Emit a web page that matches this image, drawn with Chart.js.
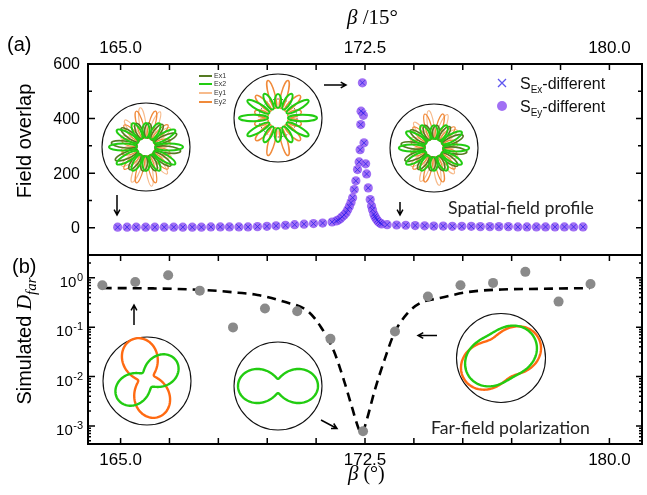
<!DOCTYPE html>
<html>
<head>
<meta charset="utf-8">
<script src="https://cdn.jsdelivr.net/npm/chart.js@4.4.0/dist/chart.umd.min.js"></script>
<style>
  html, body { margin: 0; padding: 0; background: #fff; }
  #wrap { position: relative; width: 647px; height: 495px; }
  #wrap canvas { position: absolute; left: 0; top: 0; }
</style>
</head>
<body>
<div id="wrap">
  <canvas id="topPanel" width="647" height="495"></canvas>
  <canvas id="bottomPanel" width="647" height="495"></canvas>
</div>
<script>
// ---- data ----
const xTickValues = [165, 166.5, 168, 169.5, 171, 172.5, 174, 175.5, 177, 178.5, 180];
const xTickLabels = ['165.0', '', '', '', '', '172.5', '', '', '', '', '180.0'];
const overlapTicks = [0, 200, 400, 600];
const overlapMinorTicks = [100, 300, 500];
const dfarTicks = [1, 0.1, 0.01, 0.001];
const dfarTickExp = ['0', '-1', '-2', '-3'];

const betaField = [
  164.91, 165.20, 165.48, 165.77, 166.05, 166.34, 166.63, 166.91, 167.20, 167.48, 167.77, 168.06,
  168.34, 168.63, 168.91, 169.20, 169.49, 169.77, 170.06, 170.34, 170.63, 170.92, 171.20, 171.49,
  171.62, 171.68, 171.74, 171.80, 171.86, 171.92, 171.97, 172.02, 172.07, 172.12, 172.17, 172.22,
  172.27, 172.32, 172.35, 172.37, 172.38, 172.42,
  172.45, 172.47, 172.52, 172.55, 172.60, 172.66, 172.70, 172.73, 172.77, 172.80, 172.83, 172.87,
  172.91, 172.96, 173.01,
  173.18, 173.47, 173.75, 174.04, 174.33, 174.61, 174.90, 175.18, 175.47, 175.76, 176.04, 176.33,
  176.61, 176.90, 177.19, 177.47, 177.76, 178.04, 178.33, 178.62, 178.90, 179.19
];
const overlapEx = [
  2, 2, 2, 2, 2, 2, 2, 2, 2, 2, 3, 3,
  3, 3, 3, 4, 5, 7, 9, 11, 13, 15, 17, 21,
  25, 28, 33, 40, 47, 55, 66, 78, 92, 110, 140, 172,
  213, 241, 286, 378, 427, 531,
  420, 311, 234, 197, 146, 103, 80, 66, 50, 42, 36, 28,
  22, 17, 14,
  11, 10, 9, 8, 7, 6, 6, 5, 5, 5, 4, 4,
  4, 4, 3, 3, 3, 3, 3, 3, 3, 3
];
const overlapEy = [
  2, 2, 2, 2, 2, 2, 2, 2, 2, 2, 3, 3,
  3, 3, 3, 4, 5, 7, 9, 11, 13, 15, 17, 21,
  25, 28, 33, 40, 47, 55, 66, 78, 92, 110, 140, 172,
  213, 241, 286, 378, 427, 531,
  412, 311, 234, 197, 146, 103, 80, 66, 50, 42, 36, 28,
  22, 17, 14,
  11, 10, 9, 8, 7, 6, 6, 5, 5, 5, 4, 4,
  4, 4, 3, 3, 3, 3, 3, 3, 3, 3
];

const betaFar = [164.44, 165.45, 166.46, 167.43, 168.45, 169.43, 170.42, 171.44,
  172.44, 173.42, 174.43, 175.43, 176.43, 177.42, 178.44, 179.42];
const dfarSim = [0.71, 0.82, 1.13, 0.55, 0.099, 0.24, 0.21, 0.058,
  0.00078, 0.082, 0.42, 0.71, 0.79, 1.32, 0.33, 0.75];

const betaFit = [164.45, 166.0, 167.5, 168.6, 169.2, 170.0, 170.75, 171.15, 171.55, 171.85, 172.1, 172.3,
  172.4, 172.55, 172.8, 173.1, 173.4, 173.8, 174.2, 174.8, 175.7, 176.7, 178.0, 179.4];
const dfarFit = [0.62, 0.61, 0.57, 0.50, 0.45, 0.33, 0.21, 0.10, 0.032, 0.0085, 0.0024, 0.0009,
  0.0007, 0.0013, 0.0053, 0.022, 0.076, 0.19, 0.31, 0.39, 0.52, 0.58, 0.60, 0.62];

// ---- colours / fonts ----
const SANS = '"Liberation Sans", Arial, sans-serif';
const SERIF = '"Liberation Serif", "DejaVu Serif", serif';
const CALIBRI = 'Lato, "Open Sans", sans-serif';
const purple = 'rgba(148, 92, 243, 0.88)';
const crossBlue = 'rgba(40, 30, 235, 0.75)';
const green = '#22cc11';
const olive = '#557a22';
const orange = '#f08a3a';
const lightOrange = '#f7bb8c';
const redOrange = '#ff6a12';

function toPoints(xs, ys) {
  return xs.map((x, i) => ({ x: x, y: ys[i] }));
}

// ---- drawing helpers ----
function drawRuns(ctx, runs, x, y) {
  let cx = x;
  runs.forEach(r => {
    ctx.font = r.font;
    ctx.fillText(r.t, cx, y + (r.dy || 0));
    cx += ctx.measureText(r.t).width;
  });
  return cx;
}

function runsWidth(ctx, runs) {
  let w = 0;
  runs.forEach(r => { ctx.font = r.font; w += ctx.measureText(r.t).width; });
  return w;
}

function fitText(ctx, text, family, width, x, y) {
  ctx.font = '20px ' + family;
  const size = 20 * width / ctx.measureText(text).width;
  ctx.font = size.toFixed(2) + 'px ' + family;
  ctx.fillText(text, x, y);
}

function arrow(ctx, x1, y1, x2, y2) {
  const a = Math.atan2(y2 - y1, x2 - x1);
  const h = 6;
  ctx.save();
  ctx.strokeStyle = '#000';
  ctx.lineWidth = 1.5;
  ctx.beginPath();
  ctx.moveTo(x1, y1);
  ctx.lineTo(x2, y2);
  ctx.moveTo(x2 - h * Math.cos(a - 0.5), y2 - h * Math.sin(a - 0.5));
  ctx.lineTo(x2, y2);
  ctx.lineTo(x2 - h * Math.cos(a + 0.5), y2 - h * Math.sin(a + 0.5));
  ctx.stroke();
  ctx.restore();
}

function circle(ctx, cx, cy, r) {
  ctx.save();
  ctx.strokeStyle = '#111';
  ctx.lineWidth = 1.1;
  ctx.beginPath();
  ctx.arc(cx, cy, r, 0, 2 * Math.PI);
  ctx.stroke();
  ctx.restore();
}

// petal flower used for the near-field insets
function petalRose(ctx, cx, cy, o) {
  ctx.save();
  ctx.strokeStyle = o.color;
  ctx.lineWidth = o.lw;
  for (let i = 0; i < o.n; i++) {
    const a = o.phase + i * 2 * Math.PI / o.n;
    const t = Math.pow(Math.cos(a - o.axis), 2);
    const rOut = o.rMin + (o.rMax - o.rMin) * t;
    const mid = (o.rIn + rOut) / 2;
    ctx.beginPath();
    ctx.ellipse(cx + Math.cos(a) * mid, cy + Math.sin(a) * mid, (rOut - o.rIn) / 2, o.w, a, 0, 2 * Math.PI);
    ctx.stroke();
  }
  ctx.restore();
}

// two-lobed polarization pattern for the far-field insets
function peanut(ctx, cx, cy, R, k, ang, color, lw) {
  ctx.save();
  ctx.beginPath();
  for (let i = 0; i <= 180; i++) {
    const th = i / 180 * 2 * Math.PI;
    const c = Math.cos(th - ang);
    const r = R * (k + (1 - k) * c * c);
    const px = cx + r * Math.cos(th);
    const py = cy + r * Math.sin(th);
    if (i === 0) ctx.moveTo(px, py); else ctx.lineTo(px, py);
  }
  ctx.closePath();
  ctx.strokeStyle = color;
  ctx.lineWidth = lw;
  ctx.stroke();
  ctx.restore();
}

function nearFieldInset(ctx, cx, cy, s) {
  circle(ctx, cx, cy, 44);
  petalRose(ctx, cx, cy, { n: 12, phase: 0.38, axis: Math.PI / 2, rIn: 9, rMax: 40 * s, rMin: 25 * s, w: 3.2, color: lightOrange, lw: 1.1 });
  petalRose(ctx, cx, cy, { n: 12, phase: 0.26, axis: Math.PI / 2, rIn: 9, rMax: 38 * s, rMin: 24 * s, w: 3.2, color: orange, lw: 1.2 });
  petalRose(ctx, cx, cy, { n: 12, phase: 0.12, axis: 0, rIn: 9, rMax: 35 * s, rMin: 24 * s, w: 3.4, color: olive, lw: 1.6 });
  petalRose(ctx, cx, cy, { n: 12, phase: 0, axis: 0, rIn: 9, rMax: 37 * s, rMin: 24 * s, w: 3.6, color: green, lw: 2 });
}

function frameAndTicks(chart, cfg) {
  const ctx = chart.ctx;
  const a = chart.chartArea;
  const xs = chart.scales.x;
  const ys = chart.scales.y;
  ctx.save();
  ctx.strokeStyle = '#000';
  ctx.lineWidth = 1.5;
  ctx.beginPath();
  xTickValues.forEach(v => {
    const px = xs.getPixelForValue(v);
    if (cfg.topTicks) { ctx.moveTo(px, a.top); ctx.lineTo(px, a.top + 6); }
    if (cfg.bottomTicks) { ctx.moveTo(px, a.bottom); ctx.lineTo(px, a.bottom - 6); }
  });
  cfg.yMajor.forEach(v => {
    const py = ys.getPixelForValue(v);
    ctx.moveTo(a.left, py); ctx.lineTo(a.left + 7, py);
    ctx.moveTo(a.right, py); ctx.lineTo(a.right - 6, py);
  });
  cfg.yMinor.forEach(v => {
    const py = ys.getPixelForValue(v);
    ctx.moveTo(a.left, py); ctx.lineTo(a.left + cfg.minorLen, py);
    ctx.moveTo(a.right, py); ctx.lineTo(a.right - cfg.minorLen, py);
  });
  ctx.stroke();
  ctx.lineWidth = 2;
  ctx.strokeRect(a.left, a.top, a.right - a.left, a.bottom - a.top);
  ctx.restore();
}

// ---- top panel decorations ----
const topDecor = {
  id: 'topDecor',
  afterDraw(chart) {
    const ctx = chart.ctx;
    const xs = chart.scales.x;
    const ys = chart.scales.y;
    frameAndTicks(chart, { topTicks: true, bottomTicks: false, yMajor: overlapTicks, yMinor: overlapMinorTicks, minorLen: 4 });

    ctx.save();
    ctx.fillStyle = '#000';
    ctx.textAlign = 'center';
    ctx.textBaseline = 'alphabetic';
    ctx.font = '17px ' + SANS;
    xTickValues.forEach((v, i) => {
      if (xTickLabels[i]) ctx.fillText(xTickLabels[i], xs.getPixelForValue(v), 53);
    });
    ctx.textAlign = 'right';
    ctx.textBaseline = 'middle';
    ctx.font = '16px ' + SANS;
    overlapTicks.forEach(v => ctx.fillText(String(v), 80, ys.getPixelForValue(v) + 1));

    // axis titles
    ctx.textBaseline = 'alphabetic';
    ctx.textAlign = 'left';
    drawRuns(ctx, [{ t: 'β', font: 'italic 21px ' + SERIF }, { t: ' /15°', font: '21px ' + SERIF }], 347, 24);
    ctx.font = '20px ' + SANS;
    ctx.fillText('(a)', 7, 51);
    ctx.save();
    ctx.translate(31, 141);
    ctx.rotate(-Math.PI / 2);
    ctx.textAlign = 'center';
    ctx.font = '20px ' + SANS;
    ctx.fillText('Field overlap', 0, 0);
    ctx.restore();

    // series legend
    ctx.strokeStyle = crossBlue;
    ctx.lineWidth = 1.3;
    ctx.beginPath();
    ctx.moveTo(498, 79); ctx.lineTo(506, 87);
    ctx.moveTo(506, 79); ctx.lineTo(498, 87);
    ctx.stroke();
    ctx.fillStyle = purple;
    ctx.beginPath();
    ctx.arc(502, 106, 5, 0, 2 * Math.PI);
    ctx.fill();
    ctx.fillStyle = '#111';
    drawRuns(ctx, [{ t: 'S', font: '16px ' + SANS }, { t: 'Ex', font: '10px ' + SANS, dy: 4 }, { t: '-different', font: '16px ' + SANS }], 520, 89);
    drawRuns(ctx, [{ t: 'S', font: '16px ' + SANS }, { t: 'Ey', font: '10px ' + SANS, dy: 4 }, { t: '-different', font: '16px ' + SANS }], 520, 112);

    // inset legend
    const leg = [['Ex1', olive], ['Ex2', green], ['Ey1', lightOrange], ['Ey2', orange]];
    const legY = [76, 84, 93, 102];
    ctx.font = '7px ' + SANS;
    ctx.textBaseline = 'middle';
    leg.forEach((l, i) => {
      ctx.strokeStyle = l[1];
      ctx.lineWidth = 2;
      ctx.beginPath();
      ctx.moveTo(199, legY[i]); ctx.lineTo(212, legY[i]);
      ctx.stroke();
      ctx.fillStyle = '#333';
      ctx.fillText(l[0], 214, legY[i]);
    });

    // insets
    nearFieldInset(ctx, 146, 147, 1);
    circle(ctx, 278, 118, 44);
    ctx.save();
    ctx.setLineDash([2, 2]);
    ctx.strokeStyle = '#4a5a3a';
    ctx.lineWidth = 1;
    ctx.beginPath();
    ctx.arc(278, 118, 19, 0, 2 * Math.PI);
    ctx.stroke();
    ctx.restore();
    petalRose(ctx, 278, 118, { n: 12, phase: Math.PI / 12, axis: Math.PI / 2, rIn: 10, rMax: 40, rMin: 23, w: 3.2, color: orange, lw: 1.5 });
    petalRose(ctx, 278, 118, { n: 12, phase: 0, axis: 0, rIn: 10, rMax: 39, rMin: 24, w: 3.2, color: green, lw: 2 });
    nearFieldInset(ctx, 434, 148, 0.95);

    // arrows and note
    arrow(ctx, 117, 195, 117, 215);
    arrow(ctx, 324, 85, 346, 85);
    arrow(ctx, 400, 202, 400, 215);
    ctx.fillStyle = '#222';
    ctx.textBaseline = 'alphabetic';
    ctx.textAlign = 'left';
    fitText(ctx, 'Spatial-field profile', CALIBRI, 146, 448, 214);
    ctx.restore();
  }
};

// ---- bottom panel decorations ----
const bottomDecor = {
  id: 'bottomDecor',
  afterDraw(chart) {
    const ctx = chart.ctx;
    const xs = chart.scales.x;
    const ys = chart.scales.y;
    const minor = [];
    [0.0001, 0.001, 0.01, 0.1, 1].forEach(d => {
      for (let m = 2; m <= 9; m++) {
        const v = d * m;
        if (v > ys.min && v < ys.max) minor.push(v);
      }
    });
    frameAndTicks(chart, { topTicks: true, bottomTicks: true, yMajor: dfarTicks, yMinor: minor, minorLen: 3 });

    ctx.save();
    ctx.fillStyle = '#000';
    ctx.textAlign = 'center';
    ctx.textBaseline = 'alphabetic';
    ctx.font = '17px ' + SANS;
    xTickValues.forEach((v, i) => {
      if (xTickLabels[i]) ctx.fillText(xTickLabels[i], xs.getPixelForValue(v), 465);
    });
    ctx.textAlign = 'left';
    dfarTicks.forEach((v, i) => {
      const py = ys.getPixelForValue(v);
      ctx.font = '11px ' + SANS;
      const ew = ctx.measureText(dfarTickExp[i]).width;
      ctx.fillText(dfarTickExp[i], 83 - ew, py + 3);
      ctx.font = '15px ' + SANS;
      const bw = ctx.measureText('10').width;
      ctx.fillText('10', 83 - ew - bw - 0.5, py + 9);
    });

    drawRuns(ctx, [{ t: 'β', font: 'italic 21px ' + SERIF }, { t: ' (°)', font: '20px ' + SERIF }], 348, 480);
    ctx.font = '20px ' + SANS;
    ctx.fillText('(b)', 12, 273);

    const title = [
      { t: 'Simulated ', font: '20px ' + SANS },
      { t: 'D', font: 'italic 21px ' + SERIF },
      { t: 'far', font: 'italic 15px ' + SERIF, dy: 5 }
    ];
    ctx.save();
    ctx.translate(31, 341);
    ctx.rotate(-Math.PI / 2);
    drawRuns(ctx, title, -runsWidth(ctx, title) / 2, 0);
    ctx.restore();

    // insets
    circle(ctx, 147, 381, 44);
    peanut(ctx, 146, 378, 41, 0.2, 1.27, redOrange, 2.4);
    peanut(ctx, 147, 380, 35, 0.24, -0.58, green, 2.4);
    circle(ctx, 278, 386, 44);
    peanut(ctx, 278, 386, 40, 0.18, 0, green, 2.4);
    circle(ctx, 501, 358, 44.5);
    peanut(ctx, 501, 358, 42.5, 0.5, -0.49, redOrange, 2.4);
    peanut(ctx, 501, 356, 38, 0.64, -0.52, green, 2.4);

    arrow(ctx, 134, 325, 134, 305);
    arrow(ctx, 321, 420, 337, 428.5);
    arrow(ctx, 437, 335.5, 418, 335.5);

    ctx.fillStyle = '#222';
    fitText(ctx, 'Far-field polarization', CALIBRI, 159, 431, 434);
    ctx.restore();
  }
};

// ---- charts ----
new Chart(document.getElementById('topPanel'), {
  type: 'scatter',
  data: {
    datasets: [
      {
        label: 'SEx-different',
        data: toPoints(betaField, overlapEx),
        pointStyle: 'crossRot',
        pointRadius: 3.8,
        borderColor: crossBlue,
        borderWidth: 1,
        backgroundColor: crossBlue
      },
      {
        label: 'SEy-different',
        data: toPoints(betaField, overlapEy),
        pointStyle: 'circle',
        pointRadius: 4.6,
        borderWidth: 0,
        backgroundColor: purple
      }
    ]
  },
  options: {
    responsive: false,
    animation: false,
    layout: { padding: { left: 0, right: 1, top: 0, bottom: 240 } },
    plugins: { legend: { display: false }, tooltip: { enabled: false } },
    scales: {
      x: {
        type: 'linear', position: 'top', min: 164, max: 181,
        grid: { display: false }, border: { display: false }, ticks: { display: false },
        afterFit: s => { s.height = 64; }
      },
      y: {
        min: -100, max: 600,
        grid: { display: false }, border: { display: false }, ticks: { display: false },
        afterFit: s => { s.width = 88; }
      }
    }
  },
  plugins: [topDecor]
});

new Chart(document.getElementById('bottomPanel'), {
  type: 'scatter',
  data: {
    datasets: [
      {
        label: 'simulated',
        data: toPoints(betaFar, dfarSim),
        pointRadius: 5,
        borderWidth: 0,
        backgroundColor: '#8a8a8a'
      },
      {
        label: 'fit',
        data: toPoints(betaFit, dfarFit),
        showLine: true,
        pointRadius: 0,
        borderColor: '#000',
        borderWidth: 2.6,
        borderDash: [9, 6],
        cubicInterpolationMode: 'monotone'
      }
    ]
  },
  options: {
    responsive: false,
    animation: false,
    layout: { padding: { left: 0, right: 1, top: 255, bottom: 0 } },
    plugins: { legend: { display: false }, tooltip: { enabled: false } },
    scales: {
      x: {
        type: 'linear', position: 'bottom', min: 164, max: 181,
        grid: { display: false }, border: { display: false }, ticks: { display: false },
        afterFit: s => { s.height = 51; }
      },
      y: {
        type: 'logarithmic', min: 0.00043, max: 2.9,
        grid: { display: false }, border: { display: false }, ticks: { display: false },
        afterFit: s => { s.width = 88; }
      }
    }
  },
  plugins: [bottomDecor]
});
</script>
</body>
</html>
